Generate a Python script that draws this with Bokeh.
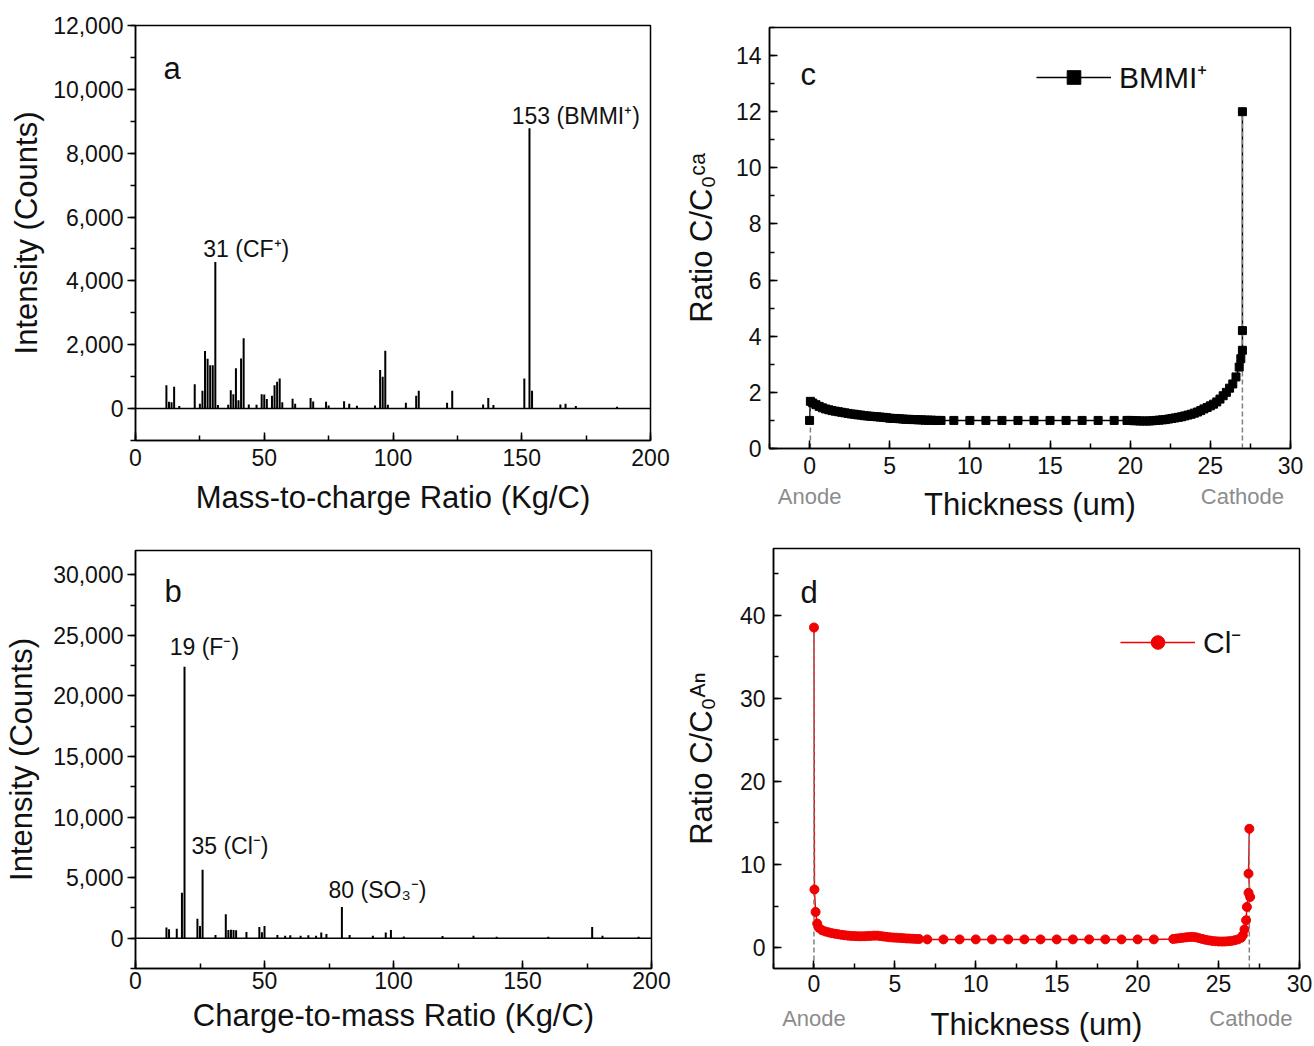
from bokeh.plotting import figure
from bokeh.models import (Span, Label, Legend, LegendItem, SingleIntervalTicker, FixedTicker,
                          NumeralTickFormatter, Range1d, ColumnDataSource, LinearAxis)
from bokeh.layouts import column, row
from bokeh.embed import file_html
from bokeh.resources import INLINE

FONT = "Liberation Sans"

# ---------------- data ----------------
# (a) positive-ion spectrum: m/z and intensity (counts)
a_mz = [12, 13, 14, 15, 17, 23, 25, 26, 27, 28, 29, 30, 31, 32, 36, 37, 38, 39, 40, 41,
        42, 44, 47, 49, 50, 51, 53, 54, 55, 56, 57, 61, 62, 68, 69, 74, 75, 81, 83, 86,
        93, 95, 96, 97, 98, 105, 109, 110, 121, 123, 135, 137, 139, 151, 153, 154, 165, 167, 171, 187]
a_int = [734, 210, 200, 680, 80, 765, 150, 555, 1800, 1560, 1360, 1360, 4590, 110, 120, 576, 450, 1260, 260, 1570,
         2200, 130, 120, 450, 440, 300, 400, 730, 840, 940, 200, 310, 150, 335, 220, 210, 100, 230, 150, 90,
         100, 1205, 1000, 1810, 120, 180, 400, 555, 180, 555, 130, 335, 110, 940, 8780, 555, 126, 150, 80, 60]

# (b) negative-ion spectrum
b_mz = [12, 13, 16, 18, 19, 24, 25, 26, 31, 35, 36, 37, 38, 39, 43, 48, 49, 50, 55, 58,
        60, 64, 67, 70, 72, 74, 80, 83, 92, 97, 99, 104, 119, 131, 140, 160, 177, 181, 195]
b_int = [875, 740, 790, 3750, 22400, 1610, 1010, 5660, 270, 1970, 680, 700, 680, 650, 520, 930, 500, 1010, 270, 200,
         250, 200, 250, 200, 465, 350, 2570, 270, 200, 465, 680, 150, 180, 200, 120, 120, 930, 200, 120]

# (c) BMMI+ ratio vs thickness
c_thickness = [0.0, 0.05, 0.2, 0.4, 0.6, 0.8, 1.0, 1.2, 1.4, 1.6, 1.8, 2.0, 2.2, 2.4, 2.6, 2.8, 3.0,
               3.2, 3.4, 3.6, 3.8, 4.0, 4.2, 4.4, 4.6, 4.8, 5.0, 5.2, 5.4, 5.6, 5.8, 6.0, 6.2, 6.4,
               6.6, 6.8, 7.0, 7.2, 7.4, 7.6, 7.8, 8.0, 8.2,
               9.0, 10.0, 11.0, 12.0, 13.0, 14.0, 15.0, 16.0, 17.0, 18.0, 19.0,
               19.8, 20.0, 20.2, 20.4, 20.6, 20.8, 21.0, 21.2, 21.4, 21.6, 21.8, 22.0, 22.2, 22.4,
               22.6, 22.8, 23.0, 23.2, 23.4, 23.6, 23.8, 24.0, 24.2, 24.4, 24.6, 24.8, 25.0, 25.2,
               25.4, 25.6, 25.8, 26.0, 26.2, 26.4, 26.6, 26.8, 26.9, 27.0, 27.0, 27.0]
c_ratio = [1.0, 1.68, 1.62, 1.56, 1.50, 1.45, 1.41, 1.38, 1.35, 1.33, 1.31, 1.29, 1.27, 1.25, 1.23, 1.22, 1.20,
           1.19, 1.17, 1.16, 1.15, 1.14, 1.13, 1.12, 1.11, 1.10, 1.08, 1.07, 1.07, 1.06, 1.05, 1.04, 1.04, 1.03,
           1.03, 1.02, 1.02, 1.01, 1.01, 1.01, 1.00, 1.00, 1.00,
           1.0, 1.0, 1.0, 1.0, 1.0, 1.0, 1.0, 1.0, 1.0, 1.0, 1.0,
           1.00, 1.00, 0.99, 0.99, 0.98, 0.98, 0.98, 0.98, 0.99, 1.00, 1.01, 1.02, 1.03, 1.05,
           1.07, 1.09, 1.11, 1.13, 1.16, 1.19, 1.22, 1.26, 1.30, 1.35, 1.41, 1.46, 1.52, 1.58,
           1.66, 1.76, 1.88, 2.00, 2.15, 2.30, 2.55, 2.90, 3.20, 3.50, 4.20, 12.0]

# (d) Cl- ratio vs thickness
d_thickness = [0.0, 0.03, 0.1, 0.2, 0.3, 0.5, 0.7, 0.9, 1.1, 1.3, 1.5, 1.7, 1.9, 2.1, 2.3, 2.5, 2.7, 2.9,
               3.1, 3.3, 3.5, 3.7, 3.9, 4.1, 4.3, 4.5, 4.7, 4.9, 5.1, 5.3, 5.5, 5.7, 5.9, 6.1, 6.3, 6.5,
               7.0, 8.0, 9.0, 10.0, 11.0, 12.0, 13.0, 14.0, 15.0, 16.0, 17.0, 18.0, 19.0, 20.0, 21.0,
               22.2, 22.4, 22.6, 22.8, 23.0, 23.2, 23.4, 23.6, 23.8, 24.0, 24.2, 24.4, 24.6, 24.8,
               25.0, 25.2, 25.4, 25.6, 25.8, 26.0, 26.2, 26.4, 26.5, 26.6, 26.7, 26.75, 26.85, 26.95,
               26.85, 26.9]
d_ratio = [38.5, 7.0, 4.3, 2.9, 2.4, 2.1, 1.95, 1.85, 1.75, 1.68, 1.62, 1.55, 1.50, 1.45, 1.42, 1.40, 1.38, 1.37,
           1.38, 1.40, 1.42, 1.45, 1.45, 1.40, 1.35, 1.30, 1.25, 1.22, 1.20, 1.18, 1.15, 1.12, 1.10, 1.08, 1.06, 1.05,
           1.0, 1.0, 1.0, 1.0, 1.0, 1.0, 1.0, 1.0, 1.0, 1.0, 1.0, 1.0, 1.0, 1.0, 1.0,
           1.05, 1.10, 1.15, 1.20, 1.25, 1.28, 1.30, 1.25, 1.15, 1.05, 0.95, 0.88, 0.82, 0.78,
           0.75, 0.74, 0.75, 0.78, 0.82, 0.90, 1.00, 1.20, 1.50, 2.2, 3.3, 4.9, 6.6, 6.1,
           8.9, 14.3]

# electrode label positions on the thickness axis
electrode_ticks = [0, 27]
electrode_names = {0: "Anode", 27: "Cathode"}

# ---------------- helpers ----------------
def base_fig(w, h, xr, yr, left, right, top, bottom):
    p = figure(width=w, height=h, x_range=Range1d(*xr), y_range=Range1d(*yr),
               output_backend="svg", toolbar_location=None,
               min_border_left=left, min_border_right=right,
               min_border_top=top, min_border_bottom=bottom)
    p.frame_align = False
    p.xgrid.visible = False
    p.ygrid.visible = False
    p.outline_line_color = "black"
    p.outline_line_width = 1.5
    p.outline_line_alpha = 1.0
    p.background_fill_color = "white"
    p.border_fill_color = "white"
    return p


def style_axes(p, xint, yint, xlabel, ylabel, y_out, xstand, xlstand, ystand, ylstand, yfmt=None):
    p.xaxis.ticker = SingleIntervalTicker(interval=xint, num_minor_ticks=2)
    p.yaxis.ticker = SingleIntervalTicker(interval=yint, num_minor_ticks=2)
    if yfmt:
        p.yaxis.formatter = NumeralTickFormatter(format=yfmt)
    for ax in (p.xaxis[0], p.yaxis[0]):
        ax.axis_line_width = 1.5
        ax.axis_line_color = "black"
        ax.major_tick_line_width = 1.5
        ax.minor_tick_line_width = 1.5
        ax.major_tick_line_color = "black"
        ax.minor_tick_line_color = "black"
        ax.major_label_text_font = FONT
        ax.major_label_text_font_size = "23px"
        ax.major_label_text_color = "#111111"
        ax.axis_label_text_font = FONT
        ax.axis_label_text_font_size = "31px"
        ax.axis_label_text_font_style = "normal"
        ax.axis_label_text_color = "#111111"
    xa, ya = p.xaxis[0], p.yaxis[0]
    xa.major_tick_in, xa.major_tick_out = 8, 0
    xa.minor_tick_in, xa.minor_tick_out = 5, 0
    if y_out:
        ya.major_tick_in, ya.major_tick_out = 0, 8
        ya.minor_tick_in, ya.minor_tick_out = 0, 5
    else:
        ya.major_tick_in, ya.major_tick_out = 8, 0
        ya.minor_tick_in, ya.minor_tick_out = 5, 0
    if xlabel:
        xa.axis_label = xlabel
        xa.axis_label_standoff = xlstand
    ya.axis_label = ylabel
    xa.major_label_standoff = xstand
    ya.major_label_standoff = ystand
    ya.axis_label_standoff = ylstand


def electrode_axis(p, label, stand, lstand):
    ax = LinearAxis(ticker=FixedTicker(ticks=electrode_ticks),
                    major_label_overrides=electrode_names,
                    axis_line_color=None, major_tick_line_color=None,
                    minor_tick_line_color=None,
                    major_label_text_font=FONT, major_label_text_font_size="22px",
                    major_label_text_color="#8c8c8c", major_label_standoff=stand,
                    axis_label=label, axis_label_standoff=lstand,
                    axis_label_text_font=FONT, axis_label_text_font_size="31px",
                    axis_label_text_font_style="normal", axis_label_text_color="#111111")
    p.add_layout(ax, "below")


def panel_letter(p, letter, x, y):
    p.add_layout(Label(x=x, y=y, x_units="screen", y_units="screen", text=letter,
                       text_font=FONT, text_font_size="31px", text_color="#111111",
                       text_baseline="alphabetic", text_align="left"))


def note(p, text, x, y):
    p.add_layout(Label(x=x, y=y, text=text, text_font=FONT, text_font_size="23px",
                       text_color="#111111", text_align="center", text_baseline="alphabetic"))


def add_legend(p, label, renderers, x, y):
    p.add_layout(Legend(items=[LegendItem(label=label, renderers=renderers)],
                        location=(x, y), glyph_width=75, glyph_height=34,
                        label_text_font=FONT, label_text_font_size="30px",
                        label_text_color="#111111", label_standoff=8,
                        padding=0, margin=0, spacing=0,
                        border_line_color=None, background_fill_alpha=0))


# ---------------- panel a ----------------
pa = base_fig(680, 530, (0, 200), (-1000, 12000), 135, 30, 25, 90)
style_axes(pa, 50, 2000, "Mass-to-charge Ratio (Kg/C)", "Intensity (Counts)", True,
           8, 11, 4, 6, yfmt="0,0")
pa.add_layout(Span(location=0, dimension="width", line_color="black", line_width=1.5))
pa.segment(x0=a_mz, y0=[0] * len(a_mz), x1=a_mz, y1=a_int, line_color="black", line_width=2)
panel_letter(pa, "a", 28, 372)
note(pa, "31 (CF\u207a)", 43, 5000)
note(pa, "153 (BMMI\u207a)", 171, 9170)

# ---------------- panel b ----------------
pb = base_fig(680, 514, (0, 200), (-2500, 32000), 135, 29, 20, 76)
style_axes(pb, 50, 5000, "Charge-to-mass Ratio (Kg/C)", "Intensity (Counts)", True,
           3, 6, 4, 11, yfmt="0,0")
pb.add_layout(Span(location=0, dimension="width", line_color="black", line_width=1.5))
pb.segment(x0=b_mz, y0=[0] * len(b_mz), x1=b_mz, y1=b_int, line_color="black", line_width=2)
panel_letter(pb, "b", 29, 377)
note(pb, "19 (F\u207b)", 26.7, 24000)
note(pb, "35 (Cl\u207b)", 36.6, 7570)
note(pb, "80 (SO\u2083\u207b)", 93.8, 3960)

# ---------------- panel c ----------------
pc = base_fig(632, 530, (-2.5, 30), (0, 15), 85, 22, 27, 82)
style_axes(pc, 5, 2, None, "Ratio C/C\u2080\u1d9c\u1d43", False, 8, 0, 8, 14)
electrode_axis(pc, "Thickness (um)", 1, -25)
src_c = ColumnDataSource(dict(x=c_thickness, y=c_ratio))
lc = pc.line("x", "y", source=src_c, line_color="black", line_width=1.5)
pc.segment(x0=[c_thickness[1], c_thickness[-1]], y0=[0, 0],
           x1=[c_thickness[1], c_thickness[-1]], y1=[c_ratio[1], c_ratio[-1]],
           line_color="#808080", line_width=1.5, line_dash="5 3")
sc = pc.scatter("x", "y", source=src_c, marker="square", size=8,
                fill_color="black", line_color="black")
panel_letter(pc, "c", 31, 374)
add_legend(pc, "BMMI\u207a", [lc, sc], 267, 351)

# ---------------- panel d ----------------
pd = base_fig(632, 514, (-2.5, 30), (-2.5, 48), 89, 13, 18, 76)
style_axes(pd, 5, 10, None, "Ratio C/C\u2080\u1d2c\u207f", False, 6, 0, 8, 18)
electrode_axis(pd, "Thickness (um)", 5, -27)
src_d = ColumnDataSource(dict(x=d_thickness, y=d_ratio))
ld = pd.line("x", "y", source=src_d, line_color="#f00000", line_width=1.5)
pd.segment(x0=[d_thickness[0], d_thickness[-1]], y0=[-2.5, -2.5],
           x1=[d_thickness[0], d_thickness[-1]], y1=[d_ratio[0], d_ratio[-1]],
           line_color="#808080", line_width=1.5, line_dash="5 3")
sd = pd.scatter("x", "y", source=src_d, marker="circle", size=9,
                fill_color="#f00000", line_color="#f00000")
panel_letter(pd, "d", 27, 376)
add_legend(pd, "Cl\u207b", [ld, sd], 347, 306)

layout = column(row(pa, pc), row(pb, pd))
open("out.html", "w").write(file_html(layout, INLINE))
